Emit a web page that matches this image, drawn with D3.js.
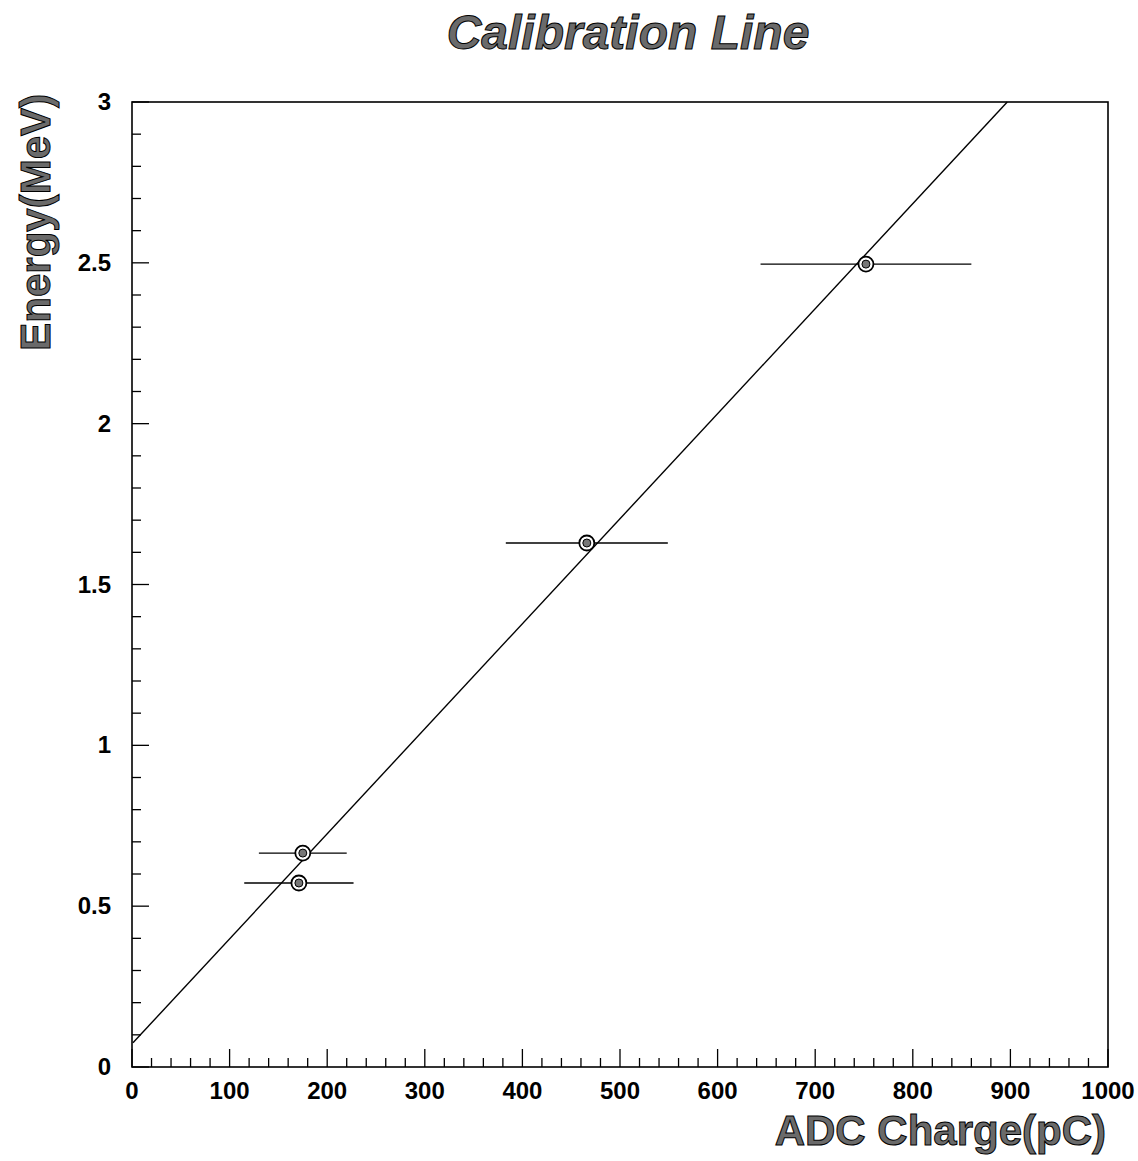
<!DOCTYPE html>
<html><head><meta charset="utf-8">
<script src="https://cdn.jsdelivr.net/npm/d3@7"></script>
<style>body{margin:0;background:#fff}svg{display:block}</style>
</head><body>
<svg id="c" width="1138" height="1161"></svg>
<script>
// Data
const chargeValues = [175, 171, 466, 752];       // ADC charge (pC)
const chargeErrors = [45, 56, 83, 108];           // horizontal error (pC)
const energyValues = [0.665, 0.572, 1.629, 2.496]; // Energy (MeV)
const fitSlope = 0.003265;      // MeV per pC
const fitIntercept = 0.072;     // MeV
const fitStart = 1;             // pC
const xTickValues = [0,100,200,300,400,500,600,700,800,900,1000];
const yTickValues = [0,0.5,1,1.5,2,2.5,3];
const yTickLabels = ["0","0.5","1","1.5","2","2.5","3"];

const svg = d3.select("#c");
const L = 132, R = 1108, T = 102, B = 1067;
const x = d3.scaleLinear().domain([0,1000]).range([L,R]);
const y = d3.scaleLinear().domain([0,3]).range([B,T]);
const FONT = "Liberation Sans, Arial, sans-serif";

// frame
svg.append("rect").attr("x",L).attr("y",T).attr("width",R-L).attr("height",B-T)
  .attr("fill","none").attr("stroke","#000").attr("stroke-width",1.6);

// x axis ticks (inward)
const xMinor = d3.range(0,1000.001,20);
svg.append("g").selectAll("line").data(xMinor).join("line")
  .attr("x1",d=>x(d)).attr("x2",d=>x(d)).attr("y1",B)
  .attr("y2",d=>B-(d%100===0?18:9))
  .attr("stroke","#000").attr("stroke-width",1.3);
svg.append("g").selectAll("text").data(xTickValues).join("text")
  .attr("x",d=>x(d)).attr("y",B+32).attr("text-anchor","middle")
  .attr("font-family",FONT).attr("font-weight","bold")
  .attr("font-size",24).text(d=>d);

// y axis ticks (inward)
const yMinor = d3.range(0,30.001,1).map(v=>v/10);
svg.append("g").selectAll("line").data(yMinor).join("line")
  .attr("x1",L).attr("x2",(d,i)=>L+(i%5===0?17:9))
  .attr("y1",d=>y(d)).attr("y2",d=>y(d))
  .attr("stroke","#000").attr("stroke-width",1.3);
svg.append("g").selectAll("text").data(yTickValues).join("text")
  .attr("x",111).attr("y",d=>y(d)+8).attr("text-anchor","end")
  .attr("font-family",FONT).attr("font-weight","bold")
  .attr("font-size",24).text((d,i)=>yTickLabels[i]);

// fit line, clipped at y max
const fitEnd = (3 - fitIntercept)/fitSlope;
svg.append("line")
  .attr("x1",x(fitStart)).attr("y1",y(fitIntercept+fitSlope*fitStart))
  .attr("x2",x(fitEnd)).attr("y2",y(3))
  .attr("stroke","#000").attr("stroke-width",1.4);

// error bars
const pts = chargeValues.map((c,i)=>({c, e:chargeErrors[i], v:energyValues[i]}));
svg.append("g").selectAll("line").data(pts).join("line")
  .attr("x1",d=>x(d.c-d.e)).attr("x2",d=>x(d.c+d.e))
  .attr("y1",d=>y(d.v)).attr("y2",d=>y(d.v))
  .attr("stroke","#000").attr("stroke-width",1.3);
// markers
const mk = svg.append("g").selectAll("g").data(pts).join("g")
  .attr("transform",d=>`translate(${x(d.c)},${y(d.v)})`);
mk.append("circle").attr("r",7.5).attr("fill","#fff").attr("stroke","#000").attr("stroke-width",1.8);
mk.append("circle").attr("r",4).attr("fill","#777").attr("stroke","#000").attr("stroke-width",1);

// titles
svg.append("text").attr("x",628).attr("y",49).attr("text-anchor","middle")
  .attr("font-family",FONT).attr("font-weight","bold")
  .attr("font-style","italic").attr("font-size",48)
  .attr("fill","#6a6a6a").attr("stroke","#000").attr("stroke-width",1)
  .text("Calibration Line");
svg.append("text").attr("x",1106).attr("y",1145).attr("text-anchor","end")
  .attr("font-family",FONT).attr("font-weight","bold")
  .attr("font-size",42)
  .attr("fill","#6a6a6a").attr("stroke","#000").attr("stroke-width",1)
  .text("ADC Charge(pC)");
svg.append("text").attr("transform","translate(50,94) rotate(-90)").attr("text-anchor","end")
  .attr("font-family",FONT).attr("font-weight","bold")
  .attr("font-size",42)
  .attr("fill","#6a6a6a").attr("stroke","#000").attr("stroke-width",1)
  .text("Energy(MeV)");
</script>
</body></html>
